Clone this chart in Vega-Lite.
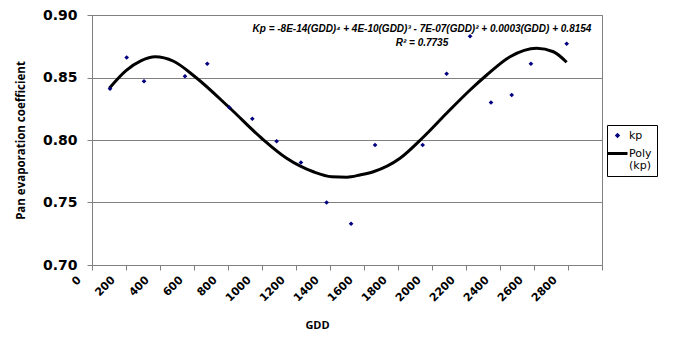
{
  "$schema": "https://vega.github.io/schema/vega-lite/v6.json",
  "width": 510,
  "height": 250,
  "autosize": {"type": "none"},
  "padding": {"left": 92, "top": 15, "right": 72, "bottom": 72},
  "background": "white",
  "config": {
    "view": {"stroke": "#808080", "strokeWidth": 1},
    "axis": {"domainColor": "#808080", "tickColor": "#808080", "gridColor": "#808080", "tickSize": 5, "labelColor": "#000", "titleColor": "#000"},
    "axisX": {
      "titleFont": "Open Sans", "titleFontWeight": "bold", "titleFontSize": 11,
      "titleX": 225, "titlePadding": 16,
      "labelAngle": -45, "labelAlign": "right", "labelBaseline": "middle",
      "labelOffset": -13, "labelPadding": 8,
      "labelFont": "DejaVu Sans", "labelFontWeight": "bold", "labelFontSize": 11,
      "labelOverlap": false, "labelFlush": false,
      "grid": false
    },
    "axisY": {
      "titleFont": "Open Sans", "titleFontWeight": "bold", "titleFontSize": 11.5,
      "titlePadding": 16,
      "labelFont": "DejaVu Sans", "labelFontWeight": "bold", "labelFontSize": 14,
      "labelPadding": 10, "grid": true
    }
  },
  "datasets": {
    "kp": [
      {"GDD": 106, "kp": 0.841, "series": "kp"},
      {"GDD": 204, "kp": 0.866, "series": "kp"},
      {"GDD": 306, "kp": 0.847, "series": "kp"},
      {"GDD": 547, "kp": 0.851, "series": "kp"},
      {"GDD": 678, "kp": 0.861, "series": "kp"},
      {"GDD": 808, "kp": 0.826, "series": "kp"},
      {"GDD": 943, "kp": 0.817, "series": "kp"},
      {"GDD": 1086, "kp": 0.799, "series": "kp"},
      {"GDD": 1229, "kp": 0.782, "series": "kp"},
      {"GDD": 1380, "kp": 0.750, "series": "kp"},
      {"GDD": 1524, "kp": 0.733, "series": "kp"},
      {"GDD": 1665, "kp": 0.796, "series": "kp"},
      {"GDD": 1945, "kp": 0.796, "series": "kp"},
      {"GDD": 2086, "kp": 0.853, "series": "kp"},
      {"GDD": 2224, "kp": 0.883, "series": "kp"},
      {"GDD": 2347, "kp": 0.830, "series": "kp"},
      {"GDD": 2469, "kp": 0.836, "series": "kp"},
      {"GDD": 2582, "kp": 0.861, "series": "kp"},
      {"GDD": 2792, "kp": 0.877, "series": "kp"}
    ],
    "poly": [
      {"GDD": 102, "kp": 0.8414, "series": "Poly (kp)"},
      {"GDD": 200, "kp": 0.8555, "series": "Poly (kp)"},
      {"GDD": 290, "kp": 0.8635, "series": "Poly (kp)"},
      {"GDD": 371, "kp": 0.8666, "series": "Poly (kp)"},
      {"GDD": 480, "kp": 0.8630, "series": "Poly (kp)"},
      {"GDD": 606, "kp": 0.8506, "series": "Poly (kp)"},
      {"GDD": 812, "kp": 0.8254, "series": "Poly (kp)"},
      {"GDD": 998, "kp": 0.8014, "series": "Poly (kp)"},
      {"GDD": 1145, "kp": 0.7854, "series": "Poly (kp)"},
      {"GDD": 1302, "kp": 0.7746, "series": "Poly (kp)"},
      {"GDD": 1410, "kp": 0.7706, "series": "Poly (kp)"},
      {"GDD": 1500, "kp": 0.7703, "series": "Poly (kp)"},
      {"GDD": 1576, "kp": 0.7720, "series": "Poly (kp)"},
      {"GDD": 1655, "kp": 0.7746, "series": "Poly (kp)"},
      {"GDD": 1812, "kp": 0.7854, "series": "Poly (kp)"},
      {"GDD": 1945, "kp": 0.8018, "series": "Poly (kp)"},
      {"GDD": 2086, "kp": 0.8214, "series": "Poly (kp)"},
      {"GDD": 2224, "kp": 0.8400, "series": "Poly (kp)"},
      {"GDD": 2322, "kp": 0.8520, "series": "Poly (kp)"},
      {"GDD": 2459, "kp": 0.8666, "series": "Poly (kp)"},
      {"GDD": 2616, "kp": 0.8734, "series": "Poly (kp)"},
      {"GDD": 2714, "kp": 0.8706, "series": "Poly (kp)"},
      {"GDD": 2792, "kp": 0.8622, "series": "Poly (kp)"}
    ]
  },
  "layer": [
    {
      "data": {"name": "poly"},
      "mark": {"type": "line", "strokeWidth": 3, "interpolate": "monotone"},
      "encoding": {
        "x": {
          "field": "GDD", "type": "quantitative",
          "scale": {"domain": [0, 3000], "nice": false, "zero": false},
          "axis": {
            "title": "GDD",
            "values": [0,200,400,600,800,1000,1200,1400,1600,1800,2000,2200,2400,2600,2800,3000],
            "labelExpr": "datum.value >= 3000 ? '' : datum.label",
            "format": "d"
          }
        },
        "y": {
          "field": "kp", "type": "quantitative",
          "scale": {"domain": [0.7, 0.9], "nice": false, "zero": false},
          "axis": {
            "title": "Pan evaporation coefficient",
            "values": [0.7, 0.75, 0.8, 0.85, 0.9], "format": ".2f"
          }
        },
        "color": {
          "field": "series", "type": "nominal",
          "scale": {"domain": ["kp", "Poly (kp)"], "range": ["#000080", "#000000"]},
          "legend": {
            "title": null, "orient": "none", "legendX": 515, "legendY": 110,
            "strokeColor": "#000", "fillColor": "#fff", "padding": 5,
            "labelFont": "DejaVu Sans", "labelFontSize": 11, "labelLimit": 200,
            "labelOffset": 6,
            "labelExpr": "datum.value === 'Poly (kp)' ? ['Poly', '(kp)'] : datum.label",
            "symbolSize": 900, "rowPadding": 6,
            "encode": {
              "symbols": {"update": {
                "strokeWidth": {"signal": "datum.value === 'kp' ? 0 : 3"},
                "size": {"signal": "datum.value === 'kp' ? 28 : 400"},
                "fill": {"signal": "datum.value === 'kp' ? '#000080' : 'transparent'"},
                "stroke": {"signal": "datum.value === 'kp' ? 'transparent' : '#000'"}
              }},
              "labels": {"update": {"lineHeight": {"value": 12.5}}}
            }
          }
        }
      }
    },
    {
      "data": {"name": "kp"},
      "mark": {"type": "point", "filled": true, "opacity": 1, "size": 22},
      "encoding": {
        "x": {"field": "GDD", "type": "quantitative", "axis": {"title": "GDD", "values": [0,200,400,600,800,1000,1200,1400,1600,1800,2000,2200,2400,2600,2800,3000], "labelExpr": "datum.value >= 3000 ? '' : datum.label", "format": "d"}},
        "y": {"field": "kp", "type": "quantitative", "axis": {"title": "Pan evaporation coefficient", "values": [0.7, 0.75, 0.8, 0.85, 0.9], "format": ".2f"}},
        "color": {"field": "series", "type": "nominal"},
        "shape": {"field": "series", "type": "nominal", "scale": {"domain": ["kp", "Poly (kp)"], "range": ["diamond", "stroke"]}}
      }
    },
    {
      "data": {"values": [{"line": "Kp = -8E-14(GDD)⁴ + 4E-10(GDD)³ - 7E-07(GDD)² + 0.0003(GDD) + 0.8154"}]},
      "mark": {"type": "text", "font": "Liberation Sans", "fontWeight": "bold", "fontStyle": "italic", "fontSize": 10, "align": "center", "baseline": "middle", "color": "#000"},
      "encoding": {
        "x": {"datum": 1941, "type": "quantitative", "axis": {"title": "GDD", "values": [0,200,400,600,800,1000,1200,1400,1600,1800,2000,2200,2400,2600,2800,3000], "labelExpr": "datum.value >= 3000 ? '' : datum.label", "format": "d"}},
        "y": {"datum": 0.8888, "type": "quantitative", "axis": {"title": "Pan evaporation coefficient", "values": [0.7, 0.75, 0.8, 0.85, 0.9], "format": ".2f"}},
        "text": {"field": "line", "type": "nominal"}
      }
    },
    {
      "data": {"values": [{"line": "R² = 0.7735"}]},
      "mark": {"type": "text", "font": "Liberation Sans", "fontWeight": "bold", "fontStyle": "italic", "fontSize": 10, "align": "center", "baseline": "middle", "color": "#000"},
      "encoding": {
        "x": {"datum": 1941, "type": "quantitative", "axis": {"title": "GDD", "values": [0,200,400,600,800,1000,1200,1400,1600,1800,2000,2200,2400,2600,2800,3000], "labelExpr": "datum.value >= 3000 ? '' : datum.label", "format": "d"}},
        "y": {"datum": 0.8776, "type": "quantitative", "axis": {"title": "Pan evaporation coefficient", "values": [0.7, 0.75, 0.8, 0.85, 0.9], "format": ".2f"}},
        "text": {"field": "line", "type": "nominal"}
      }
    }
  ]
}
